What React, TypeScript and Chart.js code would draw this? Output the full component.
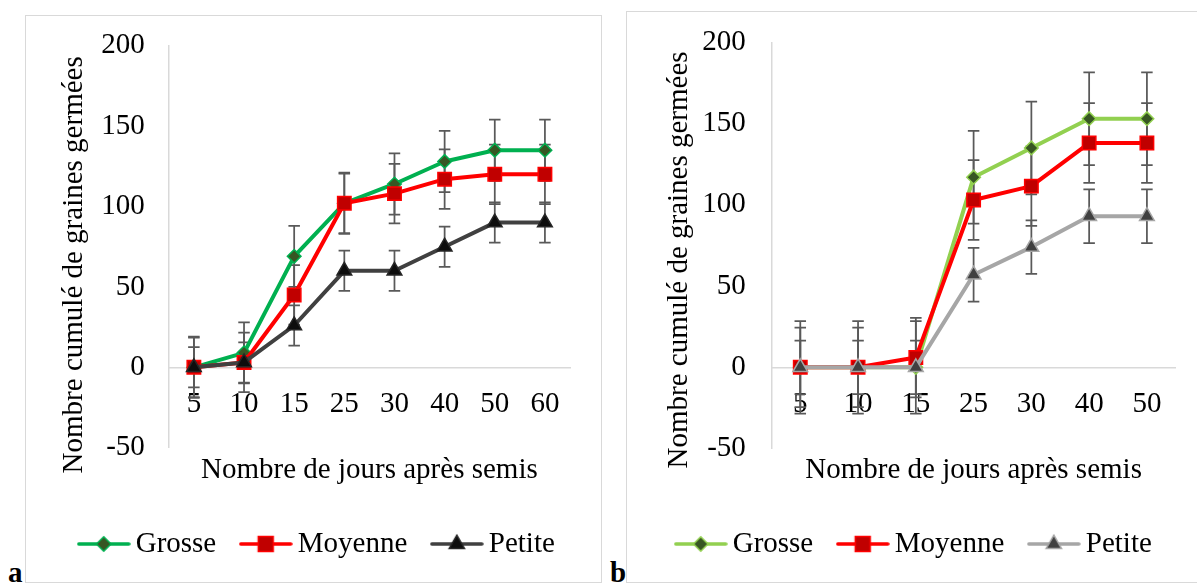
import React, { useEffect, useRef } from 'react';
import { Chart, registerables } from 'chart.js';

Chart.register(...registerables);

const FONT = '"Liberation Serif", "Times New Roman", Times, serif';

// ---------- data : panel a ----------
const daysA = ['5', '10', '15', '25', '30', '40', '50', '60'];
const grosseA = [0, 9, 69, 102, 114, 128, 135, 135];
const moyenneA = [0, 3, 45, 102, 108, 117, 120, 120];
const petiteA = [0, 3, 26, 60, 60, 75, 90, 90];
const grosseErrA = [19, 19, 19, 19, 19, 19, 19, 19];
const moyenneErrA = [18.5, 18.5, 18.5, 18.5, 18.5, 18.5, 18.5, 18.5];
const petiteErrA = [12.5, 12.5, 12.5, 12.5, 12.5, 12.5, 12.5, 12.5];

// ---------- data : panel b ----------
const daysB = ['5', '10', '15', '25', '30', '40', '50'];
const grosseB = [0, 0, 0, 117, 135, 153, 153];
const moyenneB = [0, 0, 6, 103, 111.5, 138, 138];
const petiteB = [0, 0, 0, 57, 74, 93, 93];
const grosseErrB = [28.5, 28.5, 28.5, 28.5, 28.5, 28.5, 28.5];
const moyenneErrB = [24.5, 24.5, 24.5, 24.5, 24.5, 24.5, 24.5];
const petiteErrB = [16.5, 16.5, 16.5, 16.5, 16.5, 16.5, 16.5];

const yTickValues = [-50, 0, 50, 100, 150, 200];
const seriesNames = ['Grosse', 'Moyenne', 'Petite'];
const xTitle = 'Nombre de jours après semis';
const yTitle = 'Nombre cumulé de graines germées';

type Style = {
  line: string;
  fill: string;
  border: string;
  shape: 'rectRot' | 'rect' | 'triangle';
  radius: number;
};

const stylesA: Style[] = [
  { line: '#00B050', fill: '#375623', border: '#00B050', shape: 'rectRot', radius: 6.8 },
  { line: '#FF0000', fill: '#C00000', border: '#FF0000', shape: 'rect', radius: 9.5 },
  { line: '#404040', fill: '#0D0D0D', border: '#262626', shape: 'triangle', radius: 8.5 },
];
const stylesB: Style[] = [
  { line: '#92D050', fill: '#375623', border: '#92D050', shape: 'rectRot', radius: 6.8 },
  { line: '#FF0000', fill: '#C00000', border: '#FF0000', shape: 'rect', radius: 9.5 },
  { line: '#A6A6A6', fill: '#404040', border: '#A6A6A6', shape: 'triangle', radius: 8.5 },
];

type PanelCfg = {
  days: string[];
  values: number[][];
  errors: number[][];
  styles: Style[];
  width: number;
  height: number;
  padLeft: number;
  padTop: number;
  padBottom: number;
  yWidth: number;
  rightWidth: number;
  yTickPad: number;
  yTitlePad: number;
  yTitleSpaces: string;
  xTitleTop: number;
  xTitleBottom: number;
};

const panelA: PanelCfg = {
  days: daysA,
  values: [grosseA, moyenneA, petiteA],
  errors: [grosseErrA, moyenneErrA, petiteErrA],
  styles: stylesA,
  width: 575,
  height: 566,
  padLeft: 14,
  padTop: 29.7,
  padBottom: 13.5,
  yWidth: 128.8,
  rightWidth: 31,
  yTickPad: 24,
  yTitlePad: 16.8,
  yTitleSpaces: '     ',
  xTitleTop: 4.9,
  xTitleBottom: 10.1,
};

const panelB: PanelCfg = {
  days: daysB,
  values: [grosseB, moyenneB, petiteB],
  errors: [grosseErrB, moyenneErrB, petiteErrB],
  styles: stylesB,
  width: 574,
  height: 570,
  padLeft: 7,
  padTop: 30.3,
  padBottom: 13.5,
  yWidth: 137.4,
  rightWidth: 25.2,
  yTickPad: 25.6,
  yTitlePad: 28.3,
  yTitleSpaces: '    ',
  xTitleTop: 4,
  xTitleBottom: 10.1,
};

function legendSymbol(s: Style): HTMLCanvasElement {
  const c = document.createElement('canvas');
  c.width = 54;
  c.height = 22;
  const g = c.getContext('2d') as CanvasRenderingContext2D;
  const cx = 27;
  const cy = 11;
  g.strokeStyle = s.line;
  g.lineWidth = 3.5;
  g.lineCap = 'round';
  g.beginPath();
  g.moveTo(2, cy);
  g.lineTo(52, cy);
  g.stroke();
  g.fillStyle = s.fill;
  g.strokeStyle = s.border;
  g.lineWidth = 1.5;
  g.beginPath();
  if (s.shape === 'rectRot') {
    const r = 7.2;
    g.moveTo(cx, cy - r);
    g.lineTo(cx + r, cy);
    g.lineTo(cx, cy + r);
    g.lineTo(cx - r, cy);
  } else if (s.shape === 'rect') {
    g.rect(cx - 7.5, cy - 7.5, 15, 15);
  } else {
    const r = 8.8;
    g.moveTo(cx, cy - r);
    g.lineTo(cx + r * 0.866, cy + r / 2);
    g.lineTo(cx - r * 0.866, cy + r / 2);
  }
  g.closePath();
  g.fill();
  g.stroke();
  return c;
}

function makeErrorPlugin(errs: number[][]) {
  const CAP = 5.75;
  return {
    id: 'errorBars',
    beforeDatasetsDraw(chart: any) {
      const ctx = chart.ctx as CanvasRenderingContext2D;
      const yScale = chart.scales.y;
      ctx.save();
      ctx.strokeStyle = '#595959';
      ctx.lineWidth = 1.75;
      chart.data.datasets.forEach((ds: any, i: number) => {
        const meta = chart.getDatasetMeta(i);
        meta.data.forEach((pt: any, j: number) => {
          const v = ds.data[j] as number;
          const e = errs[i][j];
          const x = pt.x;
          const top = yScale.getPixelForValue(v + e);
          const bot = yScale.getPixelForValue(v - e);
          ctx.beginPath();
          ctx.moveTo(x, top);
          ctx.lineTo(x, bot);
          ctx.moveTo(x - CAP, top);
          ctx.lineTo(x + CAP, top);
          ctx.moveTo(x - CAP, bot);
          ctx.lineTo(x + CAP, bot);
          ctx.stroke();
        });
      });
      ctx.restore();
    },
  };
}

function buildChart(canvas: HTMLCanvasElement, p: PanelCfg): Chart {
  const font = { family: FONT, size: 29, weight: 'normal' as const };
  const symbols = p.styles.map(legendSymbol);
  const datasets = p.values.map((vals, i) => {
    const s = p.styles[i];
    return {
      label: seriesNames[i],
      data: vals,
      borderColor: s.line,
      backgroundColor: s.line,
      borderWidth: 4,
      borderJoinStyle: 'round' as const,
      tension: 0,
      fill: false,
      pointStyle: s.shape,
      pointRadius: s.radius,
      pointHoverRadius: s.radius,
      pointBackgroundColor: s.fill,
      pointBorderColor: s.border,
      pointBorderWidth: 1.5,
      order: 3 - i,
    };
  });

  return new Chart(canvas, {
    type: 'line',
    data: { labels: p.days, datasets },
    plugins: [makeErrorPlugin(p.errors)],
    options: {
      animation: false,
      responsive: false,
      maintainAspectRatio: false,
      devicePixelRatio: 1,
      events: [],
      layout: {
        padding: { left: p.padLeft, right: 0, top: p.padTop, bottom: p.padBottom },
      },
      scales: {
        x: {
          type: 'category',
          labels: p.days,
          offset: true,
          position: { y: 0 } as any,
          grid: { display: false, drawTicks: false },
          border: { display: true, color: '#D9D9D9', width: 1.5 },
          ticks: {
            color: '#000',
            font,
            padding: 20,
            autoSkip: false,
            maxRotation: 0,
          },
          afterFit: (s: any) => {
            s.height = 0;
          },
        },
        y: {
          type: 'linear',
          position: 'left',
          min: -50,
          max: 200,
          grid: { display: false, drawTicks: false },
          border: { display: true, color: '#D9D9D9', width: 1.5 },
          ticks: { color: '#000', font, padding: p.yTickPad, stepSize: 50 },
          afterBuildTicks: (s: any) => {
            s.ticks = yTickValues.map((v) => ({ value: v }));
          },
          title: {
            display: true,
            text: yTitle + p.yTitleSpaces,
            color: '#000',
            font,
            padding: { top: p.yTitlePad, bottom: 0 },
          },
          afterFit: (s: any) => {
            s.width = p.yWidth;
            s.paddingTop = 0;
            s.paddingBottom = 0;
          },
        },
        yR: {
          type: 'linear',
          position: 'right',
          display: true,
          grid: { display: false, drawTicks: false },
          border: { display: false },
          ticks: { display: false },
          afterFit: (s: any) => {
            s.width = p.rightWidth;
            s.paddingTop = 0;
            s.paddingBottom = 0;
          },
        },
      },
      plugins: {
        tooltip: { enabled: false },
        title: {
          display: true,
          text: xTitle,
          position: 'bottom',
          fullSize: false,
          weight: 500,
          color: '#000',
          font,
          padding: { top: p.xTitleTop, bottom: p.xTitleBottom },
        },
        legend: {
          display: true,
          position: 'bottom',
          weight: 1000,
          labels: {
            usePointStyle: true,
            pointStyleWidth: 35,
            padding: 32,
            color: '#000',
            font,
            generateLabels: () =>
              seriesNames.map((name, i) => ({
                text: name,
                pointStyle: symbols[i] as any,
                fillStyle: 'rgba(0,0,0,0)',
                strokeStyle: 'rgba(0,0,0,0)',
                lineWidth: 0,
                hidden: false,
                datasetIndex: i,
                fontColor: '#000',
              })),
          },
        },
      },
    } as any,
  });
}

function Panel(props: {
  cfg: PanelCfg;
  left: number;
  top: number;
  boxLeft: number;
  boxTop: number;
  boxWidth: number;
  boxHeight: number;
  letter: string;
  letterLeft: number;
}) {
  const ref = useRef<HTMLCanvasElement | null>(null);
  useEffect(() => {
    if (!ref.current) return;
    const chart = buildChart(ref.current, props.cfg);
    return () => chart.destroy();
  }, []);
  return (
    <>
      <div
        style={{
          position: 'absolute',
          left: props.boxLeft,
          top: props.boxTop,
          width: props.boxWidth,
          height: props.boxHeight,
          border: '1px solid #D9D9D9',
          boxSizing: 'border-box',
          background: '#fff',
        }}
      />
      <canvas
        ref={ref}
        width={props.cfg.width}
        height={props.cfg.height}
        style={{ position: 'absolute', left: props.left, top: props.top }}
      />
      <div
        style={{
          position: 'absolute',
          left: props.letterLeft,
          top: 557.5,
          fontFamily: FONT,
          fontWeight: 'bold',
          fontSize: 29,
          lineHeight: '29px',
          color: '#000',
        }}
      >
        {props.letter}
      </div>
    </>
  );
}

export default function App() {
  return (
    <div
      style={{
        position: 'absolute',
        left: 0,
        top: 0,
        width: 1197,
        height: 584,
        overflow: 'hidden',
        background: '#fff',
      }}
    >
      <Panel
        cfg={panelA}
        left={26}
        top={16}
        boxLeft={25}
        boxTop={15}
        boxWidth={577}
        boxHeight={568}
        letter="a"
        letterLeft={8}
      />
      <Panel
        cfg={panelB}
        left={627}
        top={12}
        boxLeft={626}
        boxTop={11}
        boxWidth={600}
        boxHeight={572}
        letter="b"
        letterLeft={610}
      />
    </div>
  );
}
